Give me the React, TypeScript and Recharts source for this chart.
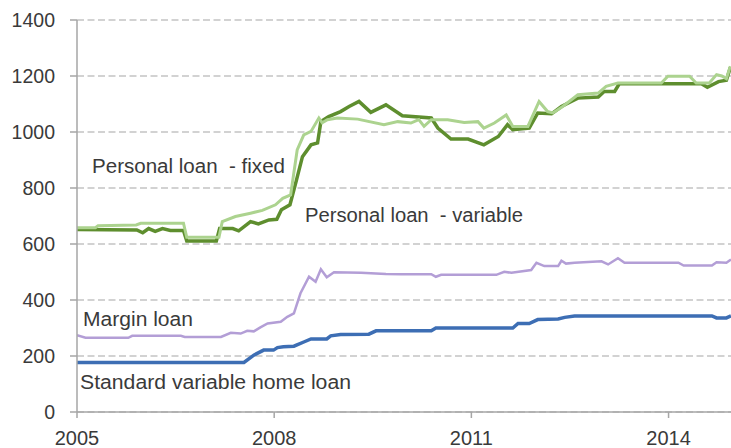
import React from "react";
import { LineChart, Line, XAxis, YAxis, CartesianGrid, Customized } from "recharts";

// Personal loan - fixed
const fixedYears = [2005.0, 2005.91, 2006.0, 2006.09, 2006.19, 2006.3, 2006.42, 2006.62, 2006.67, 2007.12, 2007.17, 2007.37, 2007.46, 2007.64, 2007.76, 2007.92, 2008.04, 2008.11, 2008.24, 2008.33, 2008.43, 2008.56, 2008.66, 2008.71, 2008.83, 2009.01, 2009.14, 2009.29, 2009.47, 2009.7, 2009.95, 2010.39, 2010.49, 2010.69, 2010.95, 2011.19, 2011.41, 2011.55, 2011.63, 2011.88, 2012.01, 2012.22, 2012.37, 2012.52, 2012.62, 2012.93, 2013.02, 2013.18, 2013.25, 2014.5, 2014.59, 2014.76, 2014.88, 2014.94];
const fixedValues = [652, 650, 640, 655, 645, 655, 648, 648, 611, 611, 655, 655, 647, 680, 672, 686, 688, 722, 740, 820, 912, 954, 961, 1037, 1055, 1073, 1091, 1109, 1070, 1097, 1058, 1050, 1014, 975, 975, 954, 984, 1026, 1008, 1014, 1068, 1065, 1091, 1109, 1121, 1125, 1145, 1145, 1172, 1172, 1160, 1180, 1185, 1230];

// Personal loan - variable
const variableYears = [2005.0, 2005.28, 2005.32, 2005.9, 2005.97, 2006.62, 2006.67, 2007.16, 2007.21, 2007.41, 2007.64, 2007.82, 2008.02, 2008.13, 2008.25, 2008.35, 2008.45, 2008.56, 2008.68, 2008.73, 2008.81, 2008.96, 2009.27, 2009.67, 2009.88, 2010.08, 2010.2, 2010.28, 2010.39, 2010.64, 2010.89, 2011.1, 2011.19, 2011.35, 2011.53, 2011.63, 2011.86, 2012.03, 2012.16, 2012.24, 2012.39, 2012.62, 2012.93, 2013.05, 2013.23, 2013.89, 2013.99, 2014.32, 2014.42, 2014.62, 2014.73, 2014.81, 2014.88, 2014.94];
const variableValues = [658, 658, 665, 668, 674, 674, 624, 624, 680, 698, 710, 720, 740, 763, 775, 936, 990, 1002, 1050, 1033, 1044, 1050, 1046, 1026, 1037, 1032, 1044, 1020, 1044, 1044, 1034, 1037, 1014, 1032, 1061, 1020, 1020, 1109, 1073, 1068, 1091, 1133, 1139, 1163, 1175, 1175, 1199, 1199, 1175, 1175, 1205, 1200, 1190, 1235];

// Margin loan
const marginYears = [2005.0, 2005.13, 2005.78, 2005.84, 2006.58, 2006.64, 2007.19, 2007.34, 2007.49, 2007.59, 2007.69, 2007.79, 2007.9, 2008.1, 2008.2, 2008.3, 2008.4, 2008.53, 2008.63, 2008.71, 2008.8, 2008.91, 2009.32, 2009.7, 2009.93, 2010.39, 2010.46, 2010.54, 2011.38, 2011.5, 2011.61, 2011.91, 2011.99, 2012.11, 2012.32, 2012.37, 2012.44, 2012.57, 2012.98, 2013.08, 2013.23, 2013.33, 2014.15, 2014.23, 2014.66, 2014.73, 2014.88, 2014.95];
const marginValues = [274, 265, 265, 272, 272, 268, 268, 283, 280, 290, 288, 302, 316, 322, 340, 352, 424, 483, 465, 510, 481, 499, 497, 493, 492, 492, 483, 490, 490, 501, 497, 507, 533, 521, 521, 540, 530, 533, 538, 527, 549, 533, 533, 523, 523, 535, 533, 545];

// Standard variable home loan
const homeYears = [2005.0, 2007.54, 2007.69, 2007.84, 2007.99, 2008.05, 2008.14, 2008.3, 2008.45, 2008.56, 2008.8, 2008.86, 2009.01, 2009.44, 2009.55, 2010.39, 2010.46, 2011.63, 2011.71, 2011.88, 2012.01, 2012.32, 2012.42, 2012.57, 2014.66, 2014.73, 2014.88, 2014.95];
const homeValues = [177, 177, 203, 221, 221, 230, 233, 235, 250, 261, 261, 272, 277, 278, 290, 290, 300, 300, 316, 316, 330, 332, 338, 343, 343, 336, 336, 343];

const xTicks = [2005, 2008, 2011, 2014];
const yTicks = [0, 200, 400, 600, 800, 1000, 1200, 1400];

const seriesLabels = [
  { text: "Personal loan  - fixed", x: 92, y: 173, w: 193 },
  { text: "Personal loan  - variable", x: 305, y: 222, w: 218 },
  { text: "Margin loan", x: 83, y: 326, w: 110 },
  { text: "Standard variable home loan", x: 80, y: 389, w: 271 },
];

const toPoints = (xs: number[], ys: number[]) => xs.map((x, i) => ({ x, y: ys[i] }));

const fixedData = toPoints(fixedYears, fixedValues);
const variableData = toPoints(variableYears, variableValues);
const marginData = toPoints(marginYears, marginValues);
const homeData = toPoints(homeYears, homeValues);

const FONT = "'Liberation Sans', Arial, sans-serif";

const Labels = () => (
  <g>
    {seriesLabels.map((l) => (
      <text
        key={l.text}
        x={l.x}
        y={l.y}
        fontSize={19.5}
        fill="#3a3a3a"
        fontFamily={FONT}
        textLength={l.w}
        lengthAdjust="spacingAndGlyphs"
        style={{ whiteSpace: "pre" }}
        xmlSpace="preserve"
      >
        {l.text}
      </text>
    ))}
  </g>
);

export default function App() {
  return (
    <div style={{ position: "absolute", left: 0, top: 0, width: 731, height: 448, background: "#fff" }}>
      <LineChart width={731} height={448} margin={{ top: 20, right: 0, bottom: 0, left: 0 }}>
        <CartesianGrid vertical={false} stroke="#c4c4c4" strokeDasharray="7 3.5" strokeWidth={1.5} />
        <XAxis
          type="number"
          dataKey="x"
          domain={[2005, 2014.95]}
          allowDataOverflow
          ticks={xTicks}
          height={36}
          tickSize={6}
          tickMargin={13}
          stroke="#a6a6a6"
          strokeWidth={1.5}
          tick={{ fill: "#3a3a3a", fontSize: 20, fontFamily: FONT }}
        />
        <YAxis
          type="number"
          domain={[0, 1400]}
          ticks={yTicks}
          width={77}
          tickSize={7}
          tickMargin={15}
          stroke="#a6a6a6"
          strokeWidth={1.5}
          tick={{ fill: "#3a3a3a", fontSize: 19.5, fontFamily: FONT }}
        />
        <Line data={homeData} dataKey="y" type="linear" stroke="#3d6eb4" strokeWidth={3.5} dot={false} isAnimationActive={false} />
        <Line data={marginData} dataKey="y" type="linear" stroke="#b39ed6" strokeWidth={2.5} dot={false} isAnimationActive={false} />
        <Line data={fixedData} dataKey="y" type="linear" stroke="#5e8e2e" strokeWidth={3.5} dot={false} isAnimationActive={false} />
        <Line data={variableData} dataKey="y" type="linear" stroke="#acd38f" strokeWidth={3} dot={false} isAnimationActive={false} />
        <Customized component={Labels} />
      </LineChart>
    </div>
  );
}
